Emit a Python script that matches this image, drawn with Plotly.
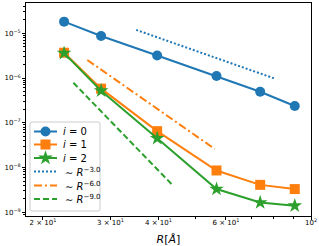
import math
import plotly.graph_objects as go

# Data
R = [22.7, 28.35, 39.7, 56.7, 73.7, 90.7]
err_i0 = [1.82e-5, 8.7e-6, 3.2e-6, 1.11e-6, 4.95e-7, 2.37e-7]
err_i1 = [3.68e-6, 5.8e-7, 6.5e-8, 8.6e-9, 4.1e-9, 3.3e-9]
err_i2 = [3.6e-6, 5.2e-7, 4.5e-8, 3.3e-9, 1.65e-9, 1.4e-9]

# Guide lines (endpoints)
guide3_R = [35.0, 80.0]
guide3_y = [1.19e-5, 9.9e-7]
guide6_R = [26.1, 56.1]
guide6_y = [2.53e-6, 2.6e-8]
guide9_R = [24.0, 43.6]
guide9_y = [7.87e-7, 4.0e-9]

series_names = ["<i>i</i> = 0", "<i>i</i> = 1", "<i>i</i> = 2"]
guide_names = ["∼ <i>R</i><sup>−3.0</sup>", "∼ <i>R</i><sup>−6.0</sup>", "∼ <i>R</i><sup>−9.0</sup>"]

x_tick_vals = [20, 30, 40, 60, 100]
x_tick_text = ["2 × 10<sup>1</sup>", "3 × 10<sup>1</sup>", "4 × 10<sup>1</sup>",
               "6 × 10<sup>1</sup>", "10<sup>2</sup>"]
y_tick_vals = [1e-9, 1e-8, 1e-7, 1e-6, 1e-5]
y_tick_text = ["10<sup>−9</sup>", "10<sup>−8</sup>", "10<sup>−7</sup>",
               "10<sup>−6</sup>", "10<sup>−5</sup>"]

BLUE, ORANGE, GREEN = "#1f77b4", "#ff7f0e", "#2ca02c"
colors = [BLUE, ORANGE, GREEN]
symbols = ["circle", "square", "star"]
msizes = [10, 10, 11]
guide_dashes = ["2px,2px", "8px,3px,2px,3px", "6px,3px"]

fig = go.Figure()
for vals, name, c, s, ms in zip([err_i0, err_i1, err_i2], series_names, colors, symbols, msizes):
    fig.add_trace(go.Scatter(x=R, y=vals, name=name, mode="lines+markers", showlegend=False,
                             line=dict(color=c, width=2),
                             marker=dict(symbol=s, size=ms, color=c)))
for gx, gy, name, c, d in zip([guide3_R, guide6_R, guide9_R], [guide3_y, guide6_y, guide9_y],
                              guide_names, colors, guide_dashes):
    fig.add_trace(go.Scatter(x=gx, y=gy, name=name, mode="lines", showlegend=False,
                             line=dict(color=c, width=2, dash=d)))

# ---- hand-drawn legend on an overlay axis measured in pixels ----
LX0, LX1, LY0, LY1 = 30, 100, 122, 211      # legend box
row_y = [131.5, 144.5, 158, 171.5, 185.5, 199]
sample_x = [34, 57]
marker_x = 45.5
text_x = 61

fig.add_shape(type="path", xref="x2", yref="y2", layer="below",
              path=(f"M {LX0+2},{LY0} L {LX1-2},{LY0} Q {LX1},{LY0} {LX1},{LY0+2} "
                    f"L {LX1},{LY1-2} Q {LX1},{LY1} {LX1-2},{LY1} L {LX0+2},{LY1} "
                    f"Q {LX0},{LY1} {LX0},{LY1-2} L {LX0},{LY0+2} Q {LX0},{LY0} {LX0+2},{LY0} Z"),
              line=dict(color="#cccccc", width=1), fillcolor="rgba(255,255,255,0.8)")

for k in range(3):
    fig.add_trace(go.Scatter(x=sample_x, y=[row_y[k]] * 2, mode="lines", showlegend=False,
                             hoverinfo="skip", xaxis="x2", yaxis="y2",
                             line=dict(color=colors[k], width=2)))
    fig.add_trace(go.Scatter(x=[marker_x], y=[row_y[k]], mode="markers", showlegend=False,
                             hoverinfo="skip", xaxis="x2", yaxis="y2",
                             marker=dict(symbol=symbols[k], size=msizes[k], color=colors[k])))
    fig.add_annotation(x=text_x, y=row_y[k], xref="x2", yref="y2", text=series_names[k],
                       showarrow=False, xanchor="left", yanchor="middle",
                       font=dict(size=10, color="black"))
for k in range(3):
    yy = row_y[3 + k]
    fig.add_trace(go.Scatter(x=sample_x, y=[yy] * 2, mode="lines", showlegend=False,
                             hoverinfo="skip", xaxis="x2", yaxis="y2",
                             line=dict(color=colors[k], width=2, dash=guide_dashes[k])))
    fig.add_annotation(x=text_x + 2, y=yy, xref="x2", yref="y2", text=guide_names[k],
                       showarrow=False, xanchor="left", yanchor="middle",
                       font=dict(size=10, color="black"))

x_minor = [50, 70, 80, 90]
y_minor = [m * 10 ** k for k in range(-10, -4) for m in range(2, 10)]

fig.update_layout(
    width=319, height=246,
    margin=dict(l=26, r=8, t=3, b=30),
    paper_bgcolor="white", plot_bgcolor="white",
    font=dict(family="DejaVu Sans", color="black", size=8),
    showlegend=False,
    xaxis=dict(type="log", range=[math.log10(18.06), 2.0], automargin=False,
               tickvals=x_tick_vals, ticktext=x_tick_text,
               tickfont=dict(size=7), ticklabelstandoff=-3,
               ticks="outside", ticklen=3, tickcolor="black",
               showline=True, linecolor="black", linewidth=1, mirror=True,
               showgrid=False, zeroline=False,
               minor=dict(tickvals=x_minor, ticks="outside", ticklen=2, tickcolor="black", showgrid=False),
               title=dict(text="<i>R</i>[<i>Å</i>]", font=dict(size=11), standoff=8)),
    yaxis=dict(type="log", range=[-9.083, -4.323], automargin=False,
               tickvals=y_tick_vals, ticktext=y_tick_text,
               tickfont=dict(size=7),
               ticks="outside", ticklen=3, tickcolor="black",
               showline=True, linecolor="black", linewidth=1, mirror=True,
               showgrid=False, zeroline=False,
               minor=dict(tickvals=y_minor, ticks="outside", ticklen=2, tickcolor="black", showgrid=False)),
    xaxis2=dict(overlaying="x", anchor="y2", range=[26, 311], visible=False, automargin=False),
    yaxis2=dict(overlaying="y", anchor="x2", range=[216, 3], visible=False, automargin=False),
)

fig.write_html("out.html", config={"displayModeBar": False},
               post_script="document.body.style.margin='0';")
